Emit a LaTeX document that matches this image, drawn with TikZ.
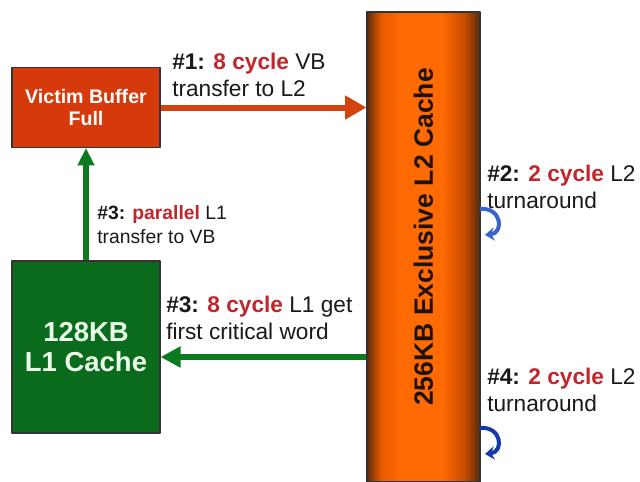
\documentclass[tikz,border=0pt]{standalone}
\usepackage{fontspec}
\setmainfont{Liberation Sans}
\usetikzlibrary{arrows.meta}
\definecolor{vbred}{HTML}{D63A0C}
\definecolor{arrred}{HTML}{D4420E}
\definecolor{lonegreen}{HTML}{0B6B1C}
\definecolor{arrgreen}{HTML}{0C7A1F}
\definecolor{numred}{HTML}{C0262C}
\definecolor{ltwodark}{HTML}{5A2A0C}
\definecolor{ltwoorange}{HTML}{FF6A02}
\definecolor{ltwomid}{HTML}{E85A00}
\definecolor{ltwoside}{HTML}{C84C00}
\definecolor{curlblue}{HTML}{3A64C8}
\definecolor{curldark}{HTML}{1838B0}
\newcommand{\cyc}[1]{\textcolor{numred}{#1}}
% orange bar, dark at both sides
\pgfdeclarehorizontalshading{ltwoshade}{100bp}{color(0bp)=(ltwodark); color(25bp)=(ltwodark); color(31bp)=(ltwomid); color(40bp)=(ltwoorange); color(58bp)=(ltwoorange); color(68bp)=(ltwoside); color(75bp)=(ltwodark); color(100bp)=(ltwodark)}

\begin{document}
\begin{tikzpicture}[x=.75pt,y=-.75pt,line join=round,
	box/.style={draw=black!80,line width=.8pt,inner sep=0pt,align=center,text=white,font=\bfseries},
	lbl/.style={anchor=west,inner sep=0pt,align=left,text=black!90,font=\fontsize{17}{20}\selectfont},
	curl/.style={line width=3pt,-{Stealth[length=7pt,width=10pt]}}]
	\useasboundingbox (0,0) rectangle (640,482);
	% the three blocks
	\node[box,fill=vbred,minimum width=111pt,minimum height=60pt,font=\bfseries\fontsize{14.7}{17}\selectfont] (vb) at (86,107.5) {Victim Buffer\\Full};
	\node[box,fill=lonegreen,minimum width=111pt,minimum height=129pt,text=green!8,font=\bfseries\fontsize{20.6}{22.5}\selectfont] (lone) at (86,347) {128KB\\L1 Cache};
	\node[draw=black!80,line width=.8pt,shade,shading=ltwoshade,minimum width=84.75pt,minimum height=352.5pt,inner sep=0pt] (ltwo) at (423.5,247) {};
	\node[rotate=90,text=black!85!brown,font=\bfseries\fontsize{19.9}{22}\selectfont] (ltwotxt) at (ltwo.center |- 0,237) {256KB Exclusive L2 Cache};
	% transfers
	\draw[arrred,line width=4.5pt,-{Triangle[length=16pt,width=17pt]}] (vb.east) -- (vb.east -| ltwo.west);
	\draw[arrgreen,line width=5pt,-{Triangle[length=13pt,width=12pt]}] (lone.north) -- (vb.south);
	\draw[arrgreen,line width=4.5pt,-{Triangle[length=15pt,width=15pt]}] (ltwo.west |- 0,357) -- (lone.east |- 0,357);
	\node[lbl] (one) at (172,75) {\textbf{\#1: \cyc{8 cycle}} VB\\transfer to L2};
	\node[lbl,font=\fontsize{14.5}{18}\selectfont] (par) at (97,225) {\textbf{\#3: \cyc{parallel}} L1\\transfer to VB};
	\node[lbl] (get) at (166,318) {\textbf{\#3: \cyc{8 cycle}} L1 get\\first critical word};
	% turnarounds on the L2 side
	\node[lbl] (two) at (487,187) {\textbf{\#2: \cyc{2 cycle}} L2\\turnaround};
	\node[lbl] (four) at (487,390) {\textbf{\#4: \cyc{2 cycle}} L2\\turnaround};
	\draw[curl,curlblue] (480,209) .. controls (502,207) and (504,233) .. (485,235);
	\draw[curl,curldark] (480,428) .. controls (502,426) and (504,452) .. (485,454);
\end{tikzpicture}
\end{document}
